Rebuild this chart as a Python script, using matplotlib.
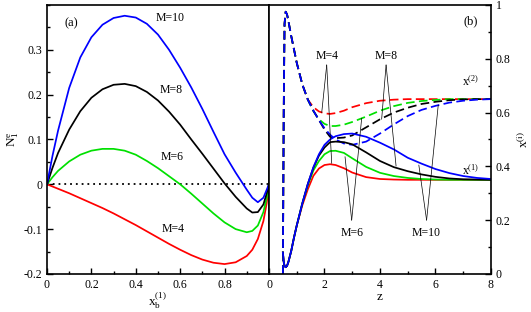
import matplotlib
matplotlib.use("Agg")
import matplotlib.pyplot as plt
from matplotlib.ticker import MultipleLocator

plt.rcParams["font.family"] = ["Liberation Serif", "DejaVu Serif"]
plt.rcParams["mathtext.fontset"] = "custom"
plt.rcParams["mathtext.rm"] = "Liberation Serif"
plt.rcParams["mathtext.it"] = "Liberation Serif"
plt.rcParams["font.size"] = 8.5

# ---- panel (a): N_1^e vs x_b^(1)
xb = [0, 0.025, 0.05, 0.1, 0.15, 0.2, 0.25, 0.3, 0.35, 0.4, 0.45, 0.5, 0.55, 0.6,
      0.65, 0.7, 0.75, 0.8, 0.85, 0.9, 0.925, 0.95, 0.975, 0.99, 1.0]
n_m4 = [0, -0.005, -0.01, -0.02, -0.031, -0.042, -0.053, -0.065, -0.078, -0.091,
        -0.105, -0.119, -0.133, -0.146, -0.158, -0.168, -0.175, -0.178, -0.174,
        -0.16, -0.146, -0.122, -0.082, -0.042, 0]
n_m6 = [0, 0.016, 0.03, 0.051, 0.066, 0.075, 0.079, 0.079, 0.075, 0.066, 0.052,
        0.036, 0.018, 0.0, -0.021, -0.043, -0.065, -0.085, -0.1, -0.107, -0.104,
        -0.092, -0.062, -0.03, 0]
n_m8 = [0, 0.037, 0.07, 0.122, 0.163, 0.193, 0.212, 0.222, 0.224, 0.219, 0.206,
        0.187, 0.162, 0.133, 0.1, 0.068, 0.035, 0.002, -0.028, -0.054, -0.063,
        -0.062, -0.045, -0.02, 0]
n_m10 = [0, 0.064, 0.12, 0.215, 0.283, 0.328, 0.356, 0.371, 0.376, 0.372, 0.358,
         0.334, 0.3, 0.26, 0.216, 0.168, 0.117, 0.067, 0.026, -0.012, -0.03,
         -0.04, -0.03, -0.012, 0]

# ---- panel (b): x^(1), x^(2) vs z
z = [0.5, 0.53, 0.56, 0.6, 0.65, 0.7, 0.8, 0.9, 1.0, 1.2, 1.4, 1.6, 1.8, 2.0,
     2.2, 2.4, 2.7, 3.0, 3.5, 4.0, 4.5, 5.0, 5.5, 6.0, 6.5, 7.0, 7.5, 8.0]
x2_m4 = [0.0, 0.6, 0.93, 0.975, 0.965, 0.94, 0.885, 0.835, 0.785, 0.705, 0.648,
         0.62, 0.604, 0.597, 0.595, 0.598, 0.607, 0.62, 0.635, 0.644, 0.648,
         0.65, 0.65, 0.65, 0.65, 0.65, 0.65, 0.65]
x2_m6 = [0.0, 0.6, 0.93, 0.975, 0.965, 0.94, 0.885, 0.835, 0.785, 0.705, 0.648,
         0.605, 0.575, 0.558, 0.55, 0.55, 0.555, 0.565, 0.585, 0.607, 0.624,
         0.636, 0.643, 0.647, 0.65, 0.65, 0.65, 0.65]
x2_m8 = [0.0, 0.6, 0.93, 0.975, 0.965, 0.94, 0.885, 0.835, 0.785, 0.705, 0.648,
         0.607, 0.572, 0.537, 0.51, 0.505, 0.507, 0.515, 0.545, 0.575, 0.6,
         0.618, 0.632, 0.64, 0.646, 0.649, 0.65, 0.65]
x2_m10 = [0.0, 0.6, 0.93, 0.975, 0.965, 0.94, 0.885, 0.835, 0.785, 0.705, 0.648,
          0.607, 0.572, 0.542, 0.518, 0.5, 0.485, 0.48, 0.492, 0.522, 0.556,
          0.587, 0.61, 0.625, 0.637, 0.644, 0.648, 0.65]
x1_m4 = [0.08, 0.045, 0.03, 0.025, 0.03, 0.045, 0.085, 0.135, 0.18, 0.255, 0.315,
         0.365, 0.392, 0.405, 0.408, 0.405, 0.393, 0.377, 0.36, 0.353, 0.351,
         0.35, 0.35, 0.35, 0.35, 0.35, 0.35, 0.35]
x1_m6 = [0.08, 0.045, 0.03, 0.025, 0.03, 0.045, 0.085, 0.135, 0.18, 0.262, 0.33,
         0.385, 0.42, 0.445, 0.457, 0.458, 0.45, 0.43, 0.398, 0.376, 0.364,
         0.357, 0.353, 0.351, 0.35, 0.35, 0.35, 0.35]
x1_m8 = [0.08, 0.045, 0.03, 0.025, 0.03, 0.045, 0.085, 0.135, 0.18, 0.262, 0.335,
         0.395, 0.44, 0.47, 0.49, 0.492, 0.49, 0.482, 0.452, 0.42, 0.397, 0.382,
         0.37, 0.361, 0.355, 0.352, 0.351, 0.35]
x1_m10 = [0.08, 0.045, 0.03, 0.025, 0.03, 0.045, 0.085, 0.135, 0.18, 0.262, 0.335,
          0.397, 0.445, 0.48, 0.5, 0.512, 0.52, 0.522, 0.51, 0.488, 0.463, 0.432,
          0.41, 0.39, 0.375, 0.364, 0.357, 0.353]

colors = {"M=4": "#ff0000", "M=6": "#00e000", "M=8": "#000000", "M=10": "#0000ff"}

fig = plt.figure(figsize=(5.31, 3.12), dpi=100)
ax1 = fig.add_axes([0.0885, 0.122, 0.418, 0.862])
ax2 = fig.add_axes([0.5066, 0.122, 0.418, 0.862])

lw = 1.25
ax1.plot([0, 1], [0, 0], color="black", lw=1.3, dashes=(1, 2.2))
ax1.plot(xb, n_m4, color=colors["M=4"], lw=lw)
ax1.plot(xb, n_m6, color=colors["M=6"], lw=lw)
ax1.plot(xb, n_m8, color=colors["M=8"], lw=lw)
ax1.plot(xb, n_m10, color=colors["M=10"], lw=lw)

ax1.set_xlim(0, 1)
ax1.set_ylim(-0.2, 0.4)
ax1.set_xticks([0, 0.2, 0.4, 0.6, 0.8, 1.0])
ax1.set_xticklabels(["0", "0.2", "0.4", "0.6", "0.8", ""])
ax1.set_yticks([-0.2, -0.1, 0, 0.1, 0.2, 0.3])
ax1.set_yticklabels(["-0.2", "-0.1", "0", "0.1", "0.2", "0.3"])
ax1.xaxis.set_minor_locator(MultipleLocator(0.1))
ax1.yaxis.set_minor_locator(MultipleLocator(0.05))
ax1.tick_params(which="both", direction="in", top=False, right=False, width=1)
ax1.tick_params(which="major", length=4)
ax1.tick_params(which="minor", length=2)
ax1.set_xlabel(r"$\mathrm{x}_\mathrm{b}^{(1)}$", labelpad=0, fontsize=9.5)
ax1.set_ylabel(r"$\mathrm{N}_1^\mathrm{e}$", labelpad=2, fontsize=9.5)

ax1.text(0.08, 0.36, "(a)", ha="left", va="center", fontsize=9)
ax1.text(0.555, 0.372, "M=10", ha="center", va="center")
ax1.text(0.56, 0.211, "M=8", ha="center", va="center")
ax1.text(0.563, 0.061, "M=6", ha="center", va="center")
ax1.text(0.568, -0.1, "M=4", ha="center", va="center")

ds = (5, 2.5)
ax2.plot(z, x2_m4, color=colors["M=4"], lw=lw, dashes=ds)
ax2.plot(z, x2_m6, color=colors["M=6"], lw=lw, dashes=ds)
ax2.plot(z, x2_m8, color=colors["M=8"], lw=lw, dashes=ds)
ax2.plot(z, x2_m10, color=colors["M=10"], lw=lw, dashes=ds)
ax2.plot(z, x1_m4, color=colors["M=4"], lw=lw)
ax2.plot(z, x1_m6, color=colors["M=6"], lw=lw)
ax2.plot(z, x1_m8, color=colors["M=8"], lw=lw)
ax2.plot(z, x1_m10, color=colors["M=10"], lw=lw)

ax2.set_xlim(0, 8)
ax2.set_ylim(0, 1)
ax2.set_xticks([0, 2, 4, 6, 8])
ax2.set_yticks([0, 0.2, 0.4, 0.6, 0.8, 1.0])
ax2.set_yticklabels(["0", "0.2", "0.4", "0.6", "0.8", "1"])
ax2.xaxis.set_minor_locator(MultipleLocator(1))
ax2.yaxis.set_minor_locator(MultipleLocator(0.1))
ax2.yaxis.tick_right()
ax2.yaxis.set_label_position("right")
ax2.tick_params(which="both", direction="in", top=False, left=False, width=1)
ax2.tick_params(which="major", length=4)
ax2.tick_params(which="minor", length=2)
ax2.set_xlabel("z", labelpad=0, fontsize=9.5)
ax2.set_ylabel(r"$\mathrm{x}^{(i)}$", labelpad=4, fontsize=9.5)

for ax in (ax1, ax2):
    for sp in ax.spines.values():
        sp.set_linewidth(1.2)

ax2.text(7.28, 0.938, "(b)", ha="center", va="center", fontsize=9)
ax2.text(7.28, 0.715, r"$\mathrm{x}^{(2)}$", ha="center", va="center")
ax2.text(7.28, 0.384, r"$\mathrm{x}^{(1)}$", ha="center", va="center")

line = dict(arrowstyle="-", color="black", lw=0.5, shrinkA=0, shrinkB=0)
ax2.text(2.08, 0.81, "M=4", ha="center", va="center")
ax2.annotate("", xy=(1.9, 0.6), xytext=(2.08, 0.777), arrowprops=line)
ax2.annotate("", xy=(2.26, 0.411), xytext=(2.08, 0.777), arrowprops=line)
ax2.text(4.22, 0.81, "M=8", ha="center", va="center")
ax2.annotate("", xy=(4.06, 0.575), xytext=(4.22, 0.777), arrowprops=line)
ax2.annotate("", xy=(4.58, 0.401), xytext=(4.22, 0.777), arrowprops=line)
ax2.text(2.98, 0.154, "M=6", ha="center", va="center")
ax2.annotate("", xy=(3.34, 0.579), xytext=(2.98, 0.2), arrowprops=line)
ax2.annotate("", xy=(2.74, 0.436), xytext=(2.98, 0.2), arrowprops=line)
ax2.text(5.68, 0.154, "M=10", ha="center", va="center")
ax2.annotate("", xy=(6.1, 0.628), xytext=(5.68, 0.2), arrowprops=line)
ax2.annotate("", xy=(5.4, 0.405), xytext=(5.68, 0.2), arrowprops=line)

fig.savefig("out.png", dpi=100)
